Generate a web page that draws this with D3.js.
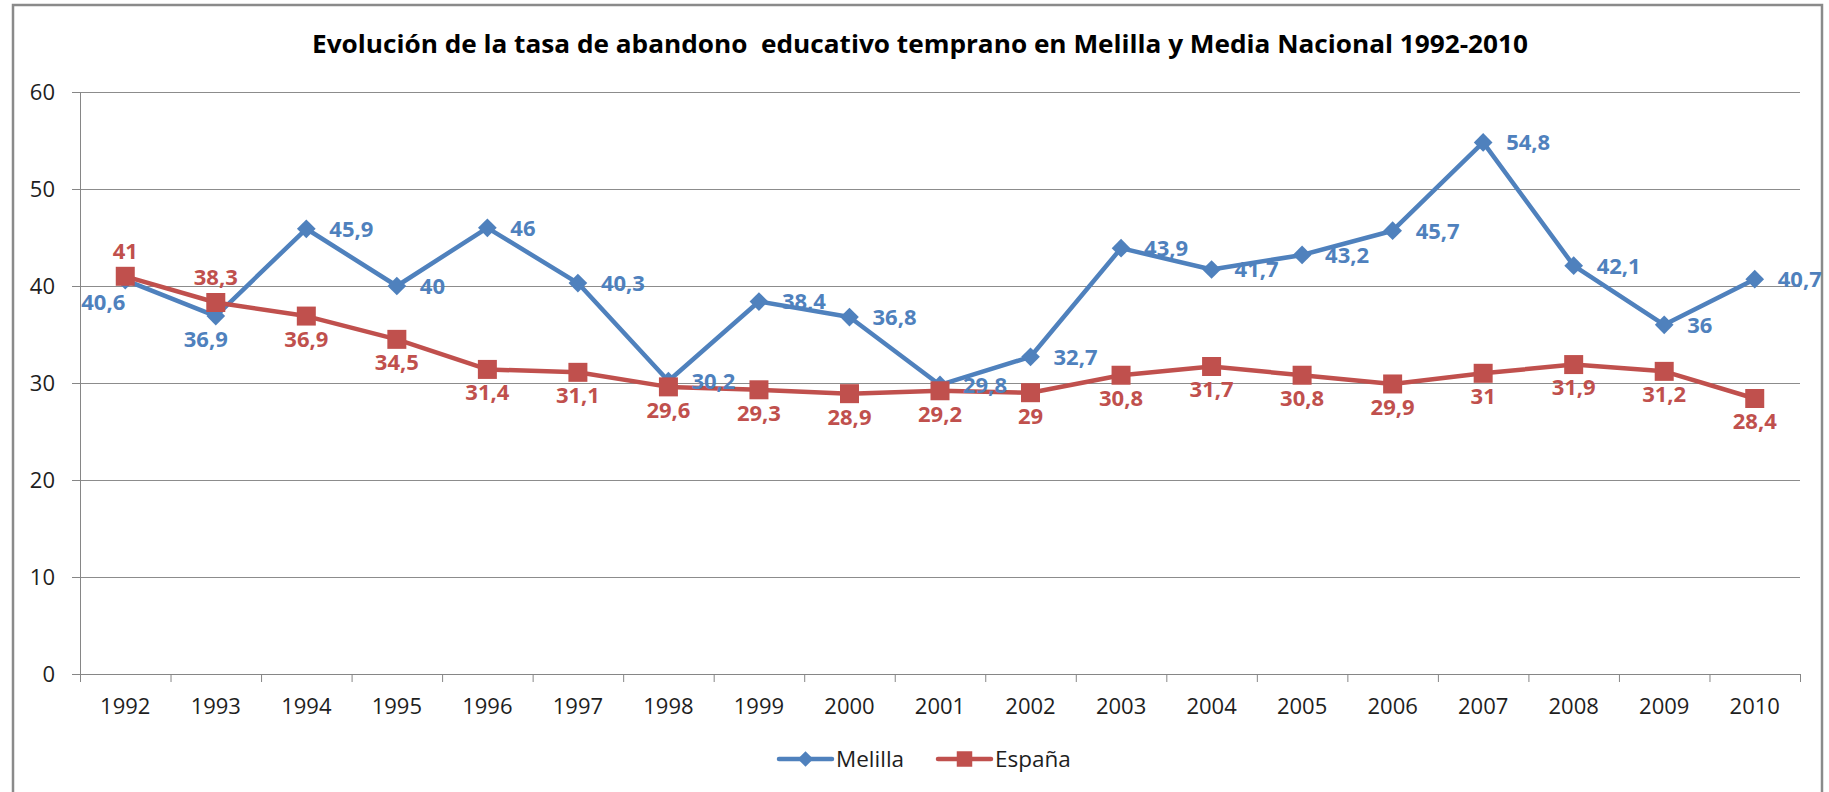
<!DOCTYPE html>
<html>
<head>
<meta charset="utf-8">
<title>Abandono educativo temprano</title>
<style>
  body { margin: 0; background: #fff; }
  svg { display: block; font-family: "Open Sans", sans-serif; }
  .axis { font-family: "Open Sans", sans-serif; }
  .axis path, .axis line { stroke: #868686; }
  .axis text { fill: #1e1e1e; font-size: 22px; }
  .grid line { stroke: #8c8c8c; stroke-width: 1; }
  .grid path { display: none; }
</style>
</head>
<body>
<svg width="1829" height="792"></svg>

<script src="https://d3js.org/d3.v7.min.js"></script>
<script>

    var years = ["1992", "1993", "1994", "1995", "1996", "1997", "1998", "1999", "2000", "2001",
                 "2002", "2003", "2004", "2005", "2006", "2007", "2008", "2009", "2010"];

    var melilla = [40.6, 36.9, 45.9, 40, 46, 40.3, 30.2, 38.4, 36.8, 29.8,
                   32.7, 43.9, 41.7, 43.2, 45.7, 54.8, 42.1, 36, 40.7];

    var espana = [41, 38.3, 36.9, 34.5, 31.4, 31.1, 29.6, 29.3, 28.9, 29.2,
                  29, 30.8, 31.7, 30.8, 29.9, 31, 31.9, 31.2, 28.4];

    var yTicks = [0, 10, 20, 30, 40, 50, 60];

    var title = "Evolución de la tasa de abandono  educativo temprano en Melilla y Media Nacional 1992-2010";

    var svg = d3.select("svg");

    var blue = "#4f81bd",
        red = "#c0504d";

    // chart frame
    svg.append("rect")
        .attr("x", 13).attr("y", 5)
        .attr("width", 1809).attr("height", 800)
        .attr("fill", "none")
        .attr("stroke", "#8a8a8a")
        .attr("stroke-width", 2.5);

    svg.append("text")
        .attr("x", 920).attr("y", 53)
        .attr("text-anchor", "middle")
        .attr("font-size", 24.5)
        .attr("font-weight", "bold")
        .attr("fill", "#000")
        .attr("textLength", 1216)
        .attr("lengthAdjust", "spacingAndGlyphs")
        .style("white-space", "pre")
        .text(title);

    var plotLeft = 80, plotRight = 1800, plotTop = 92, plotBottom = 674;

    var x = d3.scaleBand().domain(years).range([plotLeft, plotRight]).padding(0);
    var xEdge = d3.scaleLinear().domain([0, years.length]).range([plotLeft, plotRight]);
    var y = d3.scaleLinear().domain([0, 60]).range([plotBottom, plotTop]);

    // horizontal gridlines
    svg.append("g")
        .attr("class", "grid")
        .attr("transform", "translate(" + plotLeft + ",0)")
        .call(d3.axisLeft(y).tickValues(yTicks.slice(1)).tickSize(-(plotRight - plotLeft)).tickFormat(""));

    // y axis
    svg.append("g")
        .attr("class", "axis")
        .attr("transform", "translate(" + plotLeft + ",0)")
        .call(d3.axisLeft(y).tickValues(yTicks).tickSize(8).tickPadding(17).tickSizeOuter(0));

    // x axis: tick marks on category edges, labels on centres
    svg.append("g")
        .attr("class", "axis")
        .attr("transform", "translate(0," + plotBottom + ")")
        .call(d3.axisBottom(xEdge).ticks(years.length).tickSize(8).tickSizeOuter(0).tickFormat(""));

    var xLab = svg.append("g")
        .attr("class", "axis")
        .attr("transform", "translate(0," + plotBottom + ")")
        .call(d3.axisBottom(x).tickSize(0).tickPadding(24));
    xLab.select(".domain").remove();

    function cx(i) { return x(years[i]) + x.bandwidth() / 2; }

    var line = d3.line()
        .x(function(d, i) { return cx(i); })
        .y(function(d) { return y(d); });

    var diamond = d3.symbol(d3.symbolSquare, 175);
    var square = d3.symbol(d3.symbolSquare, 361);

    // Melilla series
    svg.append("path")
        .datum(melilla)
        .attr("fill", "none")
        .attr("stroke", blue)
        .attr("stroke-width", 4.5)
        .attr("stroke-linejoin", "round")
        .attr("d", line);

    svg.append("g").selectAll("path")
        .data(melilla)
        .enter().append("path")
            .attr("d", diamond)
            .attr("fill", blue)
            .attr("transform", function(d, i) { return "translate(" + cx(i) + "," + y(d) + ") rotate(45)"; });

    // España series
    svg.append("path")
        .datum(espana)
        .attr("fill", "none")
        .attr("stroke", red)
        .attr("stroke-width", 4.5)
        .attr("stroke-linejoin", "round")
        .attr("d", line);

    svg.append("g").selectAll("path")
        .data(espana)
        .enter().append("path")
            .attr("d", square)
            .attr("fill", red)
            .attr("transform", function(d, i) { return "translate(" + cx(i) + "," + y(d) + ")"; });

    // data labels (comma decimal)
    function fmt(v) { return String(v).replace(".", ","); }

    // where each label sits relative to its marker
    function place(series, i) {
        if (series === "m") {
            if (i === 0) return { dx: 0, dy: 22, anchor: "end" };
            if (i === 1) return { dx: -10, dy: 23, anchor: "middle" };
            return { dx: 23, dy: 0, anchor: "start" };
        }
        if (i <= 1) return { dx: 0, dy: -25, anchor: "middle" };
        return { dx: 0, dy: 23, anchor: "middle" };
    }

    function labels(data, key, color) {
        svg.append("g").selectAll("text")
            .data(data)
            .enter().append("text")
                .attr("x", function(d, i) { return cx(i) + place(key, i).dx; })
                .attr("y", function(d, i) { return y(d) + place(key, i).dy; })
                .attr("dy", "0.36em")
                .attr("text-anchor", function(d, i) { return place(key, i).anchor; })
                .attr("font-size", 22)
                .attr("font-weight", "bold")
                .attr("fill", color)
                .text(fmt);
    }

    labels(melilla, "m", blue);
    labels(espana, "e", red);

    // legend
    var legend = svg.append("g").attr("transform", "translate(0,759)");
    var items = [
        { name: "Melilla", color: blue, x0: 779, sym: d3.symbol(d3.symbolSquare, 120), rot: 45 },
        { name: "España", color: red, x0: 938, sym: d3.symbol(d3.symbolSquare, 240), rot: 0 }
    ];
    items.forEach(function(it) {
        legend.append("line")
            .attr("x1", it.x0).attr("x2", it.x0 + 53)
            .attr("stroke", it.color).attr("stroke-width", 4.5)
            .attr("stroke-linecap", "round");
        legend.append("path")
            .attr("d", it.sym)
            .attr("fill", it.color)
            .attr("transform", "translate(" + (it.x0 + 26.5) + ",0) rotate(" + it.rot + ")");
        legend.append("text")
            .attr("x", it.x0 + 57)
            .attr("dy", "0.36em")
            .attr("font-size", 22.5)
            .attr("fill", "#1e1e1e")
            .text(it.name);
    });

</script>
</body>
</html>
